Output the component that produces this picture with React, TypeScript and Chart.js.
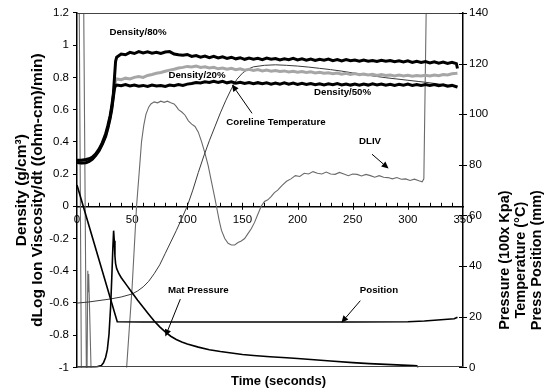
import React, { useEffect, useRef } from 'react';
import { Chart, registerables } from 'chart.js';

Chart.register(...registerables);

type Pt = [number, number | null];

// ---- Left axis series: density (g/cm3) ----
const density80: Pt[] = [
  [0, 0.285], [4, 0.285], [8, 0.29], [11, 0.295], [14, 0.305], [17, 0.325], [20, 0.355], [23, 0.395],
  [26, 0.45], [28, 0.5], [30, 0.56], [31.5, 0.62], [33, 0.7], [34, 0.8], [35, 0.9], [36, 0.925],
  [40, 0.945], [44, 0.94], [48, 0.955], [52, 0.948], [56, 0.96], [60, 0.952], [64, 0.958], [68, 0.95],
  [72, 0.955], [76, 0.948], [80, 0.957], [84, 0.96], [88, 0.945], [92, 0.94], [96, 0.937], [100, 0.942],
  [104, 0.93], [108, 0.935], [112, 0.925], [116, 0.932], [120, 0.922], [124, 0.93], [128, 0.92], [132, 0.927],
  [136, 0.918], [140, 0.925], [144, 0.915], [148, 0.922], [152, 0.912], [156, 0.92], [160, 0.913], [164, 0.918],
  [168, 0.91], [172, 0.92], [176, 0.912], [180, 0.917], [184, 0.908], [188, 0.915], [192, 0.91], [196, 0.918],
  [200, 0.908], [204, 0.915], [208, 0.907], [212, 0.913], [216, 0.905], [220, 0.912], [224, 0.906], [228, 0.914],
  [232, 0.904], [236, 0.91], [240, 0.902], [244, 0.91], [248, 0.903], [252, 0.908], [256, 0.9], [260, 0.907],
  [264, 0.9], [268, 0.905], [272, 0.898], [276, 0.906], [280, 0.9], [284, 0.905], [288, 0.897], [292, 0.903],
  [296, 0.895], [300, 0.902], [304, 0.893], [308, 0.9], [312, 0.893], [316, 0.898], [320, 0.89], [324, 0.897],
  [328, 0.888], [332, 0.895], [336, 0.887], [340, 0.894], [344, 0.885], [345, 0.855],
];

const density20: Pt[] = [
  [0, 0.27], [4, 0.268], [8, 0.272], [11, 0.28], [14, 0.295], [17, 0.318], [20, 0.348], [23, 0.388],
  [26, 0.44], [28, 0.49], [30, 0.55], [31.5, 0.61], [33, 0.69], [34, 0.75], [35, 0.78], [36, 0.79],
  [40, 0.785], [44, 0.795], [48, 0.79], [52, 0.8], [56, 0.805], [60, 0.8], [64, 0.812], [68, 0.818],
  [72, 0.825], [76, 0.83], [80, 0.838], [84, 0.845], [88, 0.85], [92, 0.858], [96, 0.862], [100, 0.868],
  [104, 0.865], [108, 0.87], [112, 0.862], [116, 0.866], [120, 0.858], [124, 0.862], [128, 0.853], [132, 0.858],
  [136, 0.85], [140, 0.856], [144, 0.848], [148, 0.853], [152, 0.845], [156, 0.85], [160, 0.843], [164, 0.848],
  [168, 0.84], [172, 0.845], [176, 0.838], [180, 0.843], [184, 0.836], [188, 0.84], [192, 0.834], [196, 0.838],
  [200, 0.832], [204, 0.836], [208, 0.83], [212, 0.834], [216, 0.827], [220, 0.831], [224, 0.825], [228, 0.829],
  [232, 0.822], [236, 0.827], [240, 0.82], [244, 0.825], [248, 0.818], [252, 0.823], [256, 0.816], [260, 0.821],
  [264, 0.815], [268, 0.819], [272, 0.812], [276, 0.817], [280, 0.811], [284, 0.815], [288, 0.809], [292, 0.814],
  [296, 0.808], [300, 0.813], [304, 0.807], [308, 0.812], [312, 0.808], [316, 0.813], [320, 0.809], [324, 0.815],
  [328, 0.81], [332, 0.818], [336, 0.815], [340, 0.822], [344, 0.825], [345, 0.826],
];

const density50: Pt[] = [
  [0, 0.272], [4, 0.268], [8, 0.27], [11, 0.278], [14, 0.293], [17, 0.316], [20, 0.345], [23, 0.385],
  [26, 0.435], [28, 0.485], [30, 0.545], [31.5, 0.6], [33, 0.68], [34, 0.73], [35, 0.75], [36, 0.752],
  [40, 0.748], [44, 0.755], [48, 0.747], [52, 0.752], [56, 0.745], [60, 0.75], [64, 0.743], [68, 0.752],
  [72, 0.746], [76, 0.75], [80, 0.744], [84, 0.752], [88, 0.748], [92, 0.755], [96, 0.75], [100, 0.758],
  [104, 0.762], [108, 0.768], [112, 0.765], [116, 0.772], [120, 0.768], [124, 0.775], [128, 0.768], [132, 0.776],
  [136, 0.766], [140, 0.772], [144, 0.764], [148, 0.77], [152, 0.762], [156, 0.768], [160, 0.76], [164, 0.767],
  [168, 0.76], [172, 0.766], [176, 0.758], [180, 0.765], [184, 0.758], [188, 0.766], [192, 0.757], [196, 0.764],
  [200, 0.756], [204, 0.763], [208, 0.756], [212, 0.762], [216, 0.754], [220, 0.76], [224, 0.753], [228, 0.76],
  [232, 0.754], [236, 0.761], [240, 0.753], [244, 0.759], [248, 0.752], [252, 0.758], [256, 0.751], [260, 0.758],
  [264, 0.752], [268, 0.76], [272, 0.753], [276, 0.759], [280, 0.751], [284, 0.757], [288, 0.75], [292, 0.757],
  [296, 0.751], [300, 0.758], [304, 0.75], [308, 0.756], [312, 0.749], [316, 0.756], [320, 0.75], [324, 0.755],
  [328, 0.748], [332, 0.754], [336, 0.745], [340, 0.75], [344, 0.742], [345, 0.74],
];

// ---- Left axis series: dLog ion viscosity / dt (null = break in line) ----
const dliv: Pt[] = [
  [1.8, 1.5], [4.2, -1.3], [5, null], [5.8, 1.5], [8.8, -1.3], [9.8, -0.4], [10.2, -0.53], [10.6, -0.42],
  [13.8, -1.3], [44, -1.3], [45, -1.0], [50, -0.5], [54, 0], [56.5, 0.22], [58.5, 0.4], [60.5, 0.5],
  [62.5, 0.57], [65, 0.615], [67, 0.635], [70, 0.648], [73, 0.642], [76, 0.652], [79, 0.645], [82, 0.652],
  [85, 0.643], [88, 0.635], [90, 0.62], [92, 0.6], [95, 0.585], [98, 0.565], [101, 0.53], [104, 0.51],
  [107, 0.495], [110, 0.46], [113, 0.4], [116, 0.33], [119, 0.25], [122, 0.15], [125, 0.05], [127, -0.02],
  [129, -0.09], [131, -0.15], [134, -0.2], [137, -0.23], [140, -0.24], [143, -0.24], [146, -0.225], [149, -0.215],
  [152, -0.2], [155, -0.17], [158, -0.14], [161, -0.1], [164, -0.05], [167, 0], [170, 0.03], [173, 0.04],
  [176, 0.06], [179, 0.085], [182, 0.1], [186, 0.13], [190, 0.155], [194, 0.17], [198, 0.19], [202, 0.185],
  [206, 0.205], [210, 0.2], [214, 0.215], [218, 0.205], [222, 0.2], [226, 0.212], [230, 0.2], [234, 0.198],
  [238, 0.21], [242, 0.2], [246, 0.19], [250, 0.2], [254, 0.198], [258, 0.188], [262, 0.198], [266, 0.19],
  [270, 0.18], [274, 0.19], [278, 0.18], [282, 0.178], [286, 0.17], [290, 0.178], [294, 0.168], [298, 0.17],
  [302, 0.16], [306, 0.168], [310, 0.158], [313, 0.152], [314.5, 0.17], [317, 1.4], [350, 1.4],
];

// ---- Right axis series ----
const matPressure: Pt[] = [
  [0, 0], [14, 0], [18, 0.2], [22, 0.7], [24, 1.8], [26, 4], [27.5, 7], [29, 13], [30.5, 24], [31.5, 35],
  [32.5, 47], [33.2, 54], [33.8, 50], [34.4, 44], [35, 41], [36, 39], [38, 37], [40, 35.5], [45, 32.5],
  [50, 29.5], [55, 26.5], [60, 23.8], [65, 21], [70, 18.3], [75, 16], [80, 14], [85, 12.3], [90, 11],
  [95, 10], [100, 9.2], [110, 8], [120, 7], [130, 6.3], [140, 5.7], [150, 5.1], [160, 4.7], [175, 4.2],
  [190, 3.8], [200, 3.5], [215, 3], [230, 2.5], [250, 1.9], [265, 1.5], [280, 1.2], [295, 0.9], [305, 0.7],
  [308, 0.6], [309.5, 0],
];

const corelineTemp: Pt[] = [
  [0, 25.4], [10, 25.8], [20, 26.4], [30, 27], [40, 27.8], [50, 29], [55, 30.2], [60, 31.8], [65, 34],
  [70, 37], [75, 40.5], [80, 45], [85, 49.5], [90, 54], [95, 58.8], [100, 63.7], [105, 70], [110, 77],
  [115, 83.5], [120, 89.5], [125, 95], [130, 100.5], [135, 105.5], [140, 110], [145, 113.8], [150, 116.2],
  [155, 117.8], [160, 118.7], [170, 119.3], [180, 119.5], [190, 119.3], [200, 119], [210, 118.6], [220, 118.1],
  [230, 117.6], [240, 117], [250, 116.3], [260, 115.6], [270, 115], [280, 114.4], [290, 113.9], [300, 113.4],
  [310, 112.9], [316, 112.6], [330, 111.8], [345, 111],
];

const pressPosition: Pt[] = [
  [0, 72], [36.5, 18], [60, 17.9], [100, 17.9], [150, 17.9], [200, 17.9], [250, 17.9], [300, 18],
  [315, 18.3], [330, 18.8], [342, 19.2], [344, 19.6], [345, 19.8],
];

// ---- Text ----
const leftTitleLines = ['Density (g/cm\u00B3)', 'dLog Ion Viscosity/dt ((ohm-cm)/min)'];
const rightTitleLines = ['Pressure (100x Kpa)', 'Temperature (\u00B0C)', 'Press Position (mm)'];
const xTitle = 'Time (seconds)';

// annotation labels, placed in (time, left-axis value)
const annotationTexts = ['Density/80%', 'Density/20%', 'Density/50%', 'Coreline Temperature', 'DLIV', 'Mat Pressure', 'Position'];
const annotationX = [55.3, 108.8, 240.8, 180.4, 265.7, 110, 273.8];
const annotationY = [1.08, 0.815, 0.71, 0.52, 0.4, -0.523, -0.523];
// arrows: [fromTime, fromValue, toTime, toValue] on left axis
const arrows: [number, number, number, number][] = [
  [158.7, 0.577, 140.5, 0.756],
  [267.5, 0.323, 282.5, 0.234],
  [93.7, -0.576, 80.1, -0.808],
  [256.9, -0.586, 239.7, -0.723],
];

const FONT = "'Liberation Sans', Arial, Helvetica, sans-serif";

const toXY = (p: Pt[]) => p.map(([x, y]) => ({ x, y }));

const decorPlugin = {
  id: 'decor',
  afterDraw(chart: any) {
    const { ctx, chartArea } = chart;
    const { left, right, top, bottom } = chartArea;
    const xs = chart.scales.x;
    const ys = chart.scales.y;
    const yr = chart.scales.y1;
    ctx.save();
    // top and bottom frame
    ctx.strokeStyle = '#444';
    ctx.lineWidth = 1;
    ctx.beginPath();
    ctx.moveTo(left, Math.round(top) + 0.5);
    ctx.lineTo(right, Math.round(top) + 0.5);
    ctx.moveTo(left, Math.round(bottom) - 0.5);
    ctx.lineTo(right, Math.round(bottom) - 0.5);
    ctx.stroke();

    // x-axis tick marks (upwards; majors cross)
    const y0 = ys.getPixelForValue(0);
    ctx.strokeStyle = '#000';
    ctx.beginPath();
    xs.ticks.forEach((t: any) => {
      if (t.value <= 0 || t.value >= 350) return;
      const px = Math.round(xs.getPixelForValue(t.value)) + 0.5;
      const major = t.value % 50 === 0;
      ctx.moveTo(px, y0 - 3.5);
      ctx.lineTo(px, major ? y0 + 3.5 : y0);
    });
    // right-axis crossing ticks
    yr.ticks.forEach((t: any) => {
      const py = Math.round(yr.getPixelForValue(t.value)) + 0.5;
      ctx.moveTo(right - 4, py);
      ctx.lineTo(right + 4, py);
    });
    ctx.stroke();

    // annotations
    ctx.fillStyle = '#000';
    ctx.font = `bold 9.7px ${FONT}`;
    ctx.textAlign = 'center';
    ctx.textBaseline = 'middle';
    annotationTexts.forEach((txt, i) => {
      ctx.fillText(txt, xs.getPixelForValue(annotationX[i]), ys.getPixelForValue(annotationY[i]));
    });
    ctx.lineWidth = 1;
    arrows.forEach(([t1, v1, t2, v2]) => {
      const x1 = xs.getPixelForValue(t1), y1 = ys.getPixelForValue(v1);
      const x2 = xs.getPixelForValue(t2), y2 = ys.getPixelForValue(v2);
      const a = Math.atan2(y2 - y1, x2 - x1);
      const L = 7, W = 3.2;
      const bx = x2 - L * Math.cos(a), by = y2 - L * Math.sin(a);
      ctx.beginPath();
      ctx.moveTo(x1, y1);
      ctx.lineTo(bx, by);
      ctx.stroke();
      ctx.beginPath();
      ctx.moveTo(x2, y2);
      ctx.lineTo(bx + W * Math.sin(a), by - W * Math.cos(a));
      ctx.lineTo(bx - W * Math.sin(a), by + W * Math.cos(a));
      ctx.closePath();
      ctx.fill();
    });

    // right axis title (reads bottom-to-top)
    ctx.font = `bold 14.5px ${FONT}`;
    const cy = (top + bottom) / 2 + 70;
    rightTitleLines.forEach((line, i) => {
      ctx.save();
      ctx.translate(right + 42 + i * 16, cy);
      ctx.rotate(-Math.PI / 2);
      ctx.fillText(line, 0, 0);
      ctx.restore();
    });
    ctx.restore();
  },
};

export default function App() {
  const ref = useRef<HTMLCanvasElement | null>(null);
  useEffect(() => {
    if (!ref.current) return;
    Chart.defaults.font.family = FONT;
    Chart.defaults.color = '#000';
    const thin = { pointRadius: 0, tension: 0, spanGaps: false, fill: false };
    const chart = new Chart(ref.current, {
      type: 'line',
      data: {
        datasets: [
          { label: 'Density/80%', data: toXY(density80), yAxisID: 'y', borderColor: '#000', borderWidth: 3, ...thin },
          { label: 'Density/50%', data: toXY(density50), yAxisID: 'y', borderColor: '#000', borderWidth: 3, ...thin },
          { label: 'Density/20%', data: toXY(density20), yAxisID: 'y', borderColor: '#a6a6a6', borderWidth: 3, ...thin },
          { label: 'Mat Pressure', data: toXY(matPressure), yAxisID: 'y1', borderColor: '#000', borderWidth: 1.6, ...thin },
          { label: 'Position', data: toXY(pressPosition), yAxisID: 'y1', borderColor: '#000', borderWidth: 1.6, ...thin },
          { label: 'Coreline Temperature', data: toXY(corelineTemp), yAxisID: 'y1', borderColor: '#3a3a3a', borderWidth: 1, ...thin },
          { label: 'DLIV', data: toXY(dliv), yAxisID: 'y', borderColor: '#6a6a6a', borderWidth: 1.1, ...thin },
        ],
      } as any,
      options: {
        animation: false,
        responsive: true,
        maintainAspectRatio: false,
        devicePixelRatio: 1,
        layout: { padding: { top: 10, left: 0, right: 0, bottom: 0 } },
        plugins: {
          legend: { display: false },
          tooltip: { enabled: false },
          title: {
            display: true,
            position: 'bottom',
            text: xTitle,
            color: '#000',
            font: { family: FONT, size: 13, weight: 'bold' },
            padding: { top: 6, bottom: 3 },
          },
        },
        scales: {
          x: {
            type: 'linear',
            position: { y: 0 } as any,
            min: 0,
            max: 350,
            afterFit: (s: any) => { s.height = 9.4; },
            grid: { drawOnChartArea: false, drawTicks: false },
            border: { display: true, color: '#000', width: 1.5 },
            ticks: {
              stepSize: 10,
              autoSkip: false,
              maxRotation: 0,
              padding: 7,
              color: '#000',
              font: { size: 11.5 },
              callback: (v: any) => (Number(v) % 50 === 0 ? String(v) : ''),
            },
          },
          y: {
            type: 'linear',
            position: 'left',
            min: -1,
            max: 1.2,
            afterFit: (s: any) => { s.width = 77; },
            grid: { drawOnChartArea: false, drawTicks: true, tickLength: 4, tickColor: '#000' },
            border: { display: true, color: '#000', width: 1.5 },
            ticks: {
              stepSize: 0.2,
              padding: 4,
              color: '#000',
              font: { size: 11.5 },
              callback: (v: any) => String(Math.round(Number(v) * 10) / 10),
            },
            title: {
              display: true,
              text: leftTitleLines,
              color: '#000',
              font: { family: FONT, size: 15.5, weight: 'bold', lineHeight: 1.03 },
              padding: { top: 14, bottom: 0 },
            },
          },
          y1: {
            type: 'linear',
            position: 'right',
            min: 0,
            max: 140,
            afterFit: (s: any) => { s.width = 94; },
            grid: { drawOnChartArea: false, drawTicks: false },
            border: { display: true, color: '#000', width: 1.5 },
            ticks: { stepSize: 20, padding: 6, color: '#000', font: { size: 11.5 } },
          },
        },
      } as any,
      plugins: [decorPlugin],
    });
    return () => chart.destroy();
  }, []);
  return (
    <div style={{ position: 'fixed', left: 0, top: 0, width: 557, height: 392, background: '#fff' }}>
      <canvas ref={ref} />
    </div>
  );
}
